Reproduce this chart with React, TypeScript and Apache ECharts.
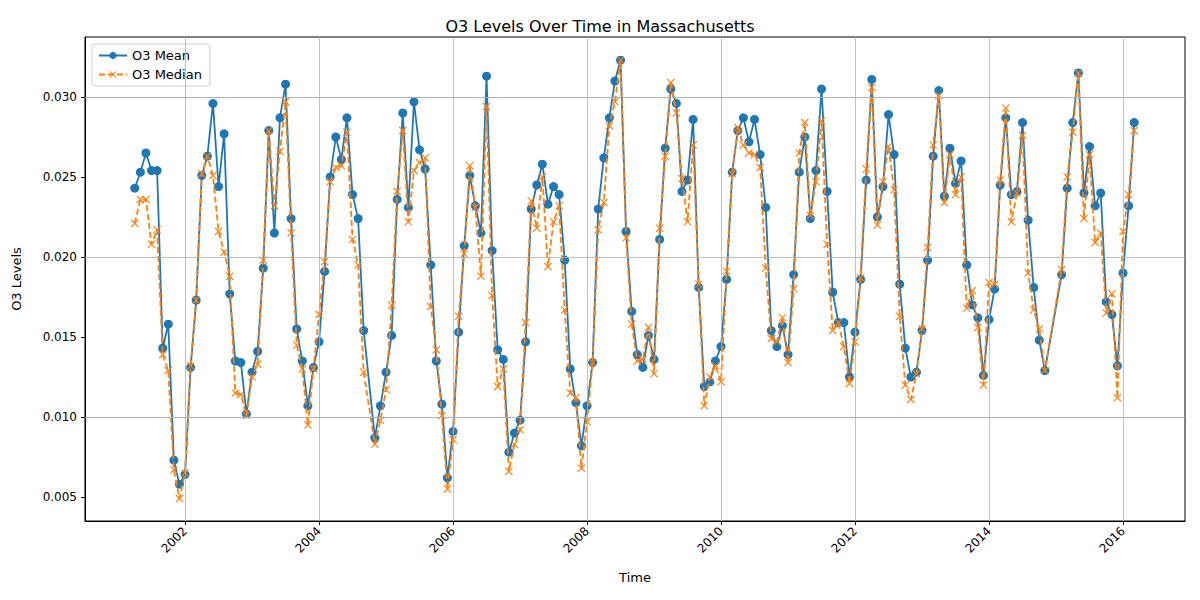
import { useRef, useEffect } from "react"
import * as echarts from "echarts"

// monthly readings from Apr 2001 to Mar 2016, null = missing month
const o3Mean: (number | null)[] = [
  0.0243, 0.0253, 0.0265, 0.0254, 0.0254, 0.0143, 0.0158, 0.0073, 0.0058, 0.0064,
  0.0131, 0.0173, 0.0251, 0.0263, 0.0296, 0.0244, 0.0277, 0.0177, 0.0135, 0.0134,
  0.0102, 0.0128, 0.0141, 0.0193, 0.0279, 0.0215, 0.0287, 0.0308, 0.0224, 0.0155,
  0.0135, 0.0107, 0.0131, 0.0147, 0.0191, 0.025, 0.0275, 0.0261, 0.0287, 0.0239,
  0.0224, 0.0154, null, 0.0087, 0.0107, 0.0128, 0.0151, 0.0236, 0.029, 0.0231,
  0.0297, 0.0267, 0.0255, 0.0195, 0.0135, 0.0108, 0.0062, 0.0091, 0.0153, 0.0207,
  0.0251, 0.0232, 0.0215, 0.0313, 0.0204, 0.0142, 0.0136, 0.0078, 0.009, 0.0098,
  0.0147, 0.023, 0.0245, 0.0258, 0.0233, 0.0244, 0.0239, 0.0198, 0.013, 0.0109,
  0.0082, 0.0107, 0.0134, 0.023, 0.0262, 0.0287, 0.031, 0.0323, 0.0216, 0.0166,
  0.0139, 0.0131, 0.0151, 0.0136, 0.0211, 0.0268, 0.0305, 0.0296, 0.0241, 0.0248,
  0.0286, 0.0181, 0.0119, 0.0122, 0.0135, 0.0144, 0.0186, 0.0253, 0.0279, 0.0287,
  0.0272, 0.0286, 0.0264, 0.0231, 0.0154, 0.0144, 0.0157, 0.0139, 0.0189, 0.0253,
  0.0275, 0.0224, 0.0254, 0.0305, 0.0241, 0.0178, 0.0159, 0.0159, 0.0125, 0.0153,
  0.0186, 0.0248, 0.0311, 0.0225, 0.0244, 0.0289, 0.0264, 0.0183, 0.0143, 0.0125,
  0.0128, 0.0154, 0.0198, 0.0263, 0.0304, 0.0238, 0.0268, 0.0246, 0.026, 0.0195,
  0.017, 0.0162, 0.0126, 0.0161, 0.018, 0.0245, 0.0287, 0.0239, 0.0241, 0.0284,
  0.0223, 0.0181, 0.0148, 0.0129, null, null, 0.0189, 0.0243, 0.0284, 0.0315,
  0.024, 0.0269, 0.0232, 0.024, 0.0172, 0.0164, 0.0132, 0.019, 0.0232, 0.0284,
]

const o3Median: (number | null)[] = [
  0.0221, 0.0236, 0.0236, 0.0208, 0.0217, 0.0139, 0.0129, 0.0067, 0.0049, 0.0065,
  0.0132, 0.0173, 0.0252, 0.0263, 0.0251, 0.0216, 0.0203, 0.0188, 0.0115, 0.0114,
  0.0101, 0.0125, 0.0133, 0.0198, 0.0279, 0.0232, 0.0266, 0.0297, 0.0215, 0.0145,
  0.013, 0.0095, 0.013, 0.0164, 0.0197, 0.0247, 0.0256, 0.0257, 0.0278, 0.0211,
  0.0195, 0.0128, null, 0.0083, 0.0098, 0.0117, 0.017, 0.0241, 0.0279, 0.0222,
  0.0254, 0.0259, 0.0262, 0.0169, 0.0142, 0.0101, 0.0055, 0.0086, 0.0163, 0.0202,
  0.0257, 0.0231, 0.0188, 0.0294, 0.0176, 0.0119, 0.013, 0.0066, 0.0083, 0.0092,
  0.0159, 0.0235, 0.0218, 0.025, 0.0194, 0.0222, 0.0232, 0.0167, 0.0115, 0.0112,
  0.0068, 0.0097, 0.0134, 0.0217, 0.0234, 0.0282, 0.0297, 0.0323, 0.0212, 0.0158,
  0.0135, 0.0136, 0.0156, 0.0127, 0.0218, 0.0263, 0.0309, 0.029, 0.0249, 0.0222,
  0.027, 0.0183, 0.0107, 0.0125, 0.0132, 0.0122, 0.0191, 0.0252, 0.0281, 0.027,
  0.0265, 0.0264, 0.0256, 0.0193, 0.0149, 0.0147, 0.0162, 0.0134, 0.018, 0.0265,
  0.0284, 0.0226, 0.0247, 0.0285, 0.0208, 0.0154, 0.0159, 0.0144, 0.0121, 0.0147,
  0.0187, 0.0255, 0.0306, 0.022, 0.0247, 0.0269, 0.0242, 0.0163, 0.012, 0.0111,
  0.0127, 0.0155, 0.0206, 0.027, 0.0301, 0.0234, 0.0264, 0.0239, 0.025, 0.0168,
  0.0179, 0.0156, 0.012, 0.0184, 0.0183, 0.0248, 0.0293, 0.0222, 0.024, 0.0276,
  0.019, 0.0167, 0.0155, 0.0129, null, null, 0.0192, 0.025, 0.0278, 0.0315,
  0.0224, 0.0264, 0.0209, 0.0215, 0.0165, 0.0177, 0.0112, 0.0216, 0.0239, 0.0279,
]

const startYear = 2001
const startMonth = 3 // April, zero based
const yearTicks = [2002, 2004, 2006, 2008, 2010, 2012, 2014, 2016]
const levelTicks = [0.005, 0.01, 0.015, 0.02, 0.025, 0.03]

const xMark = "path://M0,1L1,0L5,4L9,0L10,1L6,5L10,9L9,10L5,6L1,10L0,9L4,5Z"
const gridColor = "#b0b0b0"
const font = "DejaVu Sans"

const toPoints = (vals: (number | null)[]) =>
  vals.map((v, i) => [startYear + (startMonth + i) / 12, v])

export default function App() {
  const chartRef = useRef<HTMLDivElement>(null)

  useEffect(() => {
    if (!chartRef.current) return
    const chart = echarts.init(chartRef.current, undefined, { renderer: "svg" })

    chart.setOption({
      animation: false,
      textStyle: { fontFamily: font },
      title: {
        text: "O3 Levels Over Time in Massachusetts",
        left: "center",
        top: 13,
        textStyle: { fontFamily: font, fontSize: 16, fontWeight: "normal", color: "#000" },
      },
      legend: {
        orient: "vertical",
        left: 92,
        top: 44,
        itemWidth: 28,
        itemHeight: 9,
        itemGap: 6,
        padding: [5, 8, 5, 6],
        borderColor: "#d0d0d0",
        borderWidth: 1,
        borderRadius: 3,
        backgroundColor: "rgba(255,255,255,0.8)",
        textStyle: { fontFamily: font, fontSize: 13, color: "#000" },
        data: ["O3 Mean", "O3 Median"],
      },
      grid: {
        left: 85,
        right: 15,
        top: 37,
        bottom: 79,
        show: true,
        borderColor: "#000",
        borderWidth: 1,
        backgroundColor: "transparent",
      },
      xAxis: {
        type: "value",
        min: 2000.507,
        max: 2016.925,
        name: "Time",
        nameLocation: "middle",
        nameGap: 50,
        nameTextStyle: { fontFamily: font, fontSize: 13, color: "#000" },
        axisLine: { onZero: false, lineStyle: { color: "#000" } },
        axisTick: { customValues: yearTicks, length: 4, lineStyle: { color: "#000" } },
        axisLabel: {
          customValues: yearTicks,
          rotate: 45,
          fontSize: 12,
          color: "#000",
          formatter: (v: number) => String(Math.round(v)),
        },
        splitLine: { show: false },
      },
      yAxis: {
        type: "value",
        min: 0.0035,
        max: 0.03375,
        name: "O3 Levels",
        nameLocation: "middle",
        nameGap: 62,
        nameTextStyle: { fontFamily: font, fontSize: 13, color: "#000" },
        axisLine: { show: true, lineStyle: { color: "#000" } },
        axisTick: { show: true, customValues: levelTicks, length: 4, lineStyle: { color: "#000" } },
        axisLabel: {
          customValues: levelTicks,
          fontSize: 12,
          color: "#000",
          formatter: (v: number) => v.toFixed(3),
        },
        splitLine: { show: false },
      },
      series: [
        {
          name: "O3 Mean",
          type: "line",
          data: toPoints(o3Mean),
          connectNulls: true,
          symbol: "circle",
          symbolSize: 9,
          showAllSymbol: true,
          z: 3,
          lineStyle: { color: "#1f77b4", width: 1.8 },
          itemStyle: { color: "#1f77b4" },
          markLine: {
            silent: true,
            symbol: "none",
            label: { show: false },
            lineStyle: { color: gridColor, width: 0.8, type: "solid" },
            data: [
              ...yearTicks.map((y) => ({ xAxis: y })),
              ...levelTicks.map((v) => ({ yAxis: v })),
            ],
          },
        },
        {
          name: "O3 Median",
          type: "line",
          data: toPoints(o3Median),
          connectNulls: true,
          symbol: xMark,
          symbolSize: 8,
          showAllSymbol: true,
          z: 4,
          lineStyle: { color: "#ff7f0e", width: 1.8, type: [6, 3] },
          itemStyle: { color: "#ff7f0e" },
        },
      ],
    })

    return () => chart.dispose()
  }, [])

  return <div ref={chartRef} style={{ width: 1200, height: 600, margin: -8 }} />
}
